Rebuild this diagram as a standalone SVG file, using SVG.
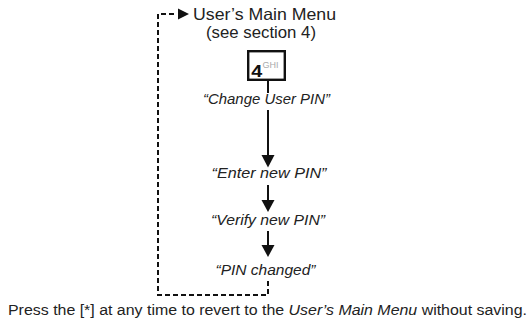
<svg xmlns="http://www.w3.org/2000/svg" width="528" height="320" viewBox="0 0 528 320">
<style>
text{font-family:"Liberation Sans",Arial,sans-serif;fill:#222}
.hd{font-size:16.5px}
.lb{font-size:14px;font-style:italic;text-anchor:middle}
.ft{font-size:14px}
.solid{stroke:#111;stroke-width:2;fill:none}
.dash{stroke:#111;stroke-width:2;fill:none;stroke-dasharray:5 3}
.head{fill:#111}
</style>
<rect width="528" height="320" fill="#fff"/>
<g id="menu">
<text class="hd" x="193" y="20" textLength="143" lengthAdjust="spacingAndGlyphs">User’s Main Menu</text>
<text class="hd" x="206" y="38" textLength="110" lengthAdjust="spacingAndGlyphs">(see section 4)</text>
</g>
<g id="key4">
<rect x="248.2" y="51.2" width="36.6" height="28.6" fill="#fff" stroke="#111" stroke-width="2.4"/>
<text x="251.3" y="77.3" font-size="16.5" font-weight="bold" textLength="11" lengthAdjust="spacingAndGlyphs" style="fill:#111">4</text>
<text x="262.5" y="68.2" font-size="8.4" textLength="16" lengthAdjust="spacingAndGlyphs" style="fill:#aaa">GHI</text>
</g>
<g id="change"><text class="lb" x="266.5" y="104" textLength="127" lengthAdjust="spacingAndGlyphs">“Change User PIN”</text></g>
<g id="enter"><text class="lb" x="269" y="178.3" textLength="115" lengthAdjust="spacingAndGlyphs">“Enter new PIN”</text></g>
<g id="verify"><text class="lb" x="268" y="225" textLength="114" lengthAdjust="spacingAndGlyphs">“Verify new PIN”</text></g>
<g id="changed"><text class="lb" x="265.5" y="275" textLength="100" lengthAdjust="spacingAndGlyphs">“PIN changed”</text></g>
<g id="connectors">
<line class="solid" x1="268" y1="81" x2="268" y2="93"/>
<line class="solid" x1="268" y1="110" x2="268" y2="157"/>
<path class="head" d="M261.5,155 L274.5,155 L268,167.5 z"/>
<line class="solid" x1="268" y1="185" x2="268" y2="202"/>
<path class="head" d="M261.5,200 L274.5,200 L268,212 z"/>
<line class="solid" x1="268" y1="231" x2="268" y2="247"/>
<path class="head" d="M261.5,245 L274.5,245 L268,257 z"/>
<path class="dash" d="M268,281 V295 H158 V14 H176"/>
<path class="head" d="M178,8.5 L189,14 L178,19.5 z"/>
</g>
<g id="note">
<text class="ft" x="8" y="315" textLength="519" lengthAdjust="spacingAndGlyphs">Press the [*] at any time to revert to the <tspan font-style="italic">User’s Main Menu</tspan> without saving.</text>
</g>
</svg>
